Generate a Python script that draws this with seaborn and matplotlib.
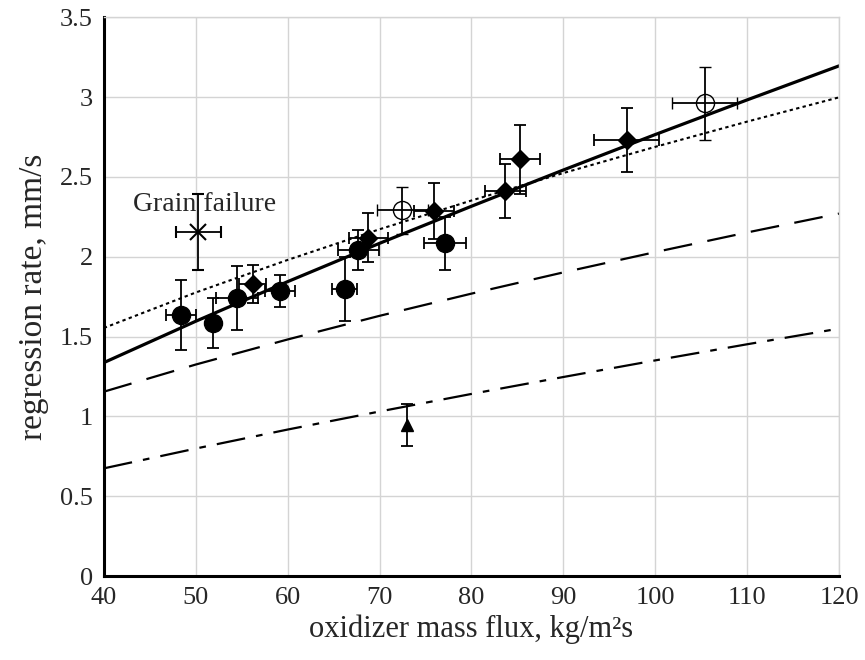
import numpy as np
import pandas as pd
import matplotlib
matplotlib.use("Agg")
import matplotlib.pyplot as plt
import seaborn as sns

# fitted curves at x = 40, 50, ... 120
flux_fit = [40, 50, 60, 70, 80, 90, 100, 110, 120]
fit_solid = [1.337, 1.596, 1.844, 2.084, 2.316, 2.543, 2.765, 2.982, 3.195]
fit_dotted = [1.554, 1.776, 1.980, 2.172, 2.352, 2.524, 2.688, 2.846, 2.998]
fit_dashed = [1.155, 1.325, 1.482, 1.630, 1.769, 1.902, 2.029, 2.152, 2.270]
fit_dashdot = [0.675, 0.799, 0.918, 1.031, 1.141, 1.247, 1.351, 1.452, 1.550]

# measured points
circ_x = [48.4, 51.9, 54.5, 59.2, 66.2, 67.7, 77.1]
circ_y = [1.635, 1.585, 1.74, 1.785, 1.80, 2.04, 2.085]
circ_xerr = [1.65, 0.7, 2.3, 1.65, 1.4, 2.2, 2.3]
circ_yerr = [0.22, 0.155, 0.20, 0.10, 0.20, 0.125, 0.165]

diam_x = [56.2, 68.8, 75.9, 83.7, 85.3, 96.9]
diam_y = [1.83, 2.12, 2.285, 2.41, 2.61, 2.73]
diam_xerr = [1.45, 2.15, 2.2, 2.25, 2.15, 3.55]
diam_yerr = [0.12, 0.155, 0.175, 0.17, 0.215, 0.20]

open_x = [72.5, 105.4]
open_y = [2.29, 2.96]
open_xerr = [2.8, 3.55]
open_yerr = [0.145, 0.23]

tri_x = [73.0]
tri_y = [0.946]
tri_yerr = [0.13]

fail_x = [50.3]
fail_y = [2.155]
fail_xerr = [2.45]
fail_yerr = [0.24]

sns.set_style("white")
plt.rcParams['font.family'] = ['Liberation Serif', 'DejaVu Serif']

fig = plt.figure(figsize=(8.65, 6.6), dpi=100)
ax = fig.add_axes([0.120, 0.127, 0.850, 0.847])

fits = pd.DataFrame({"flux": flux_fit, "solid": fit_solid, "dotted": fit_dotted,
                     "dashed": fit_dashed, "dashdot": fit_dashdot})
sns.lineplot(data=fits, x="flux", y="solid", ax=ax, color="black", linewidth=2.3)
sns.lineplot(data=fits, x="flux", y="dotted", ax=ax, color="black", linewidth=1.5,
             linestyle=(0, (1.6, 1.6)))
sns.lineplot(data=fits, x="flux", y="dashed", ax=ax, color="black", linewidth=1.6,
             linestyle=(0, (13, 7)))
sns.lineplot(data=fits, x="flux", y="dashdot", ax=ax, color="black", linewidth=1.6,
             linestyle=(0, (13, 5, 3, 5)))

eb = dict(color="black", ecolor="black", elinewidth=1.3, capsize=4.5, capthick=1.3,
          linestyle="none", zorder=5)
ax.errorbar(circ_x, circ_y, xerr=circ_xerr, yerr=circ_yerr, marker="o", ms=13,
            mfc="black", mec="black", **eb)
ax.errorbar(diam_x, diam_y, xerr=diam_xerr, yerr=diam_yerr, marker="D", ms=9.5,
            mfc="black", mec="black", **eb)
ax.errorbar(open_x, open_y, xerr=open_xerr, yerr=open_yerr, marker="o", ms=13,
            mfc="none", mec="black", mew=1.0, **eb)
ax.errorbar(tri_x, tri_y, yerr=tri_yerr, marker="^", ms=9,
            mfc="black", mec="black", **eb)
ax.errorbar(fail_x, fail_y, xerr=fail_xerr, yerr=fail_yerr, marker="x", ms=12,
            mew=1.5, mec="black", **eb)

ax.text(51.0, 2.325, "Grain failure", ha="center", va="center", fontsize=20)

ax.set_xlim(40, 120)
ax.set_ylim(0, 3.5)
ax.set_xticks(np.arange(40, 121, 10))
ax.set_yticks(np.arange(0, 3.51, 0.5))
ax.set_xticks(np.arange(45, 120, 10), minor=True)
ax.set_yticks(np.arange(0.25, 3.5, 0.5), minor=True)
ax.set_yticklabels(["0", "0.5", "1", "1.5", "2", "2.5", "3", "3.5"])
ax.grid(True, which="major", color="#d4d4d4", linewidth=1.0)
ax.set_axisbelow(True)
ax.tick_params(which="major", direction="in", length=15, width=1.6, labelsize=19,
               top=False, right=False, pad=8)
ax.tick_params(which="minor", direction="in", length=8, width=1.6, top=False, right=False)

for s in ["left", "bottom"]:
    ax.spines[s].set_color("black")
    ax.spines[s].set_linewidth(2.2)
for s in ["top", "right"]:
    ax.spines[s].set_color("#d4d4d4")
    ax.spines[s].set_linewidth(1.0)

ax.set_xlabel("oxidizer mass flux, kg/m²s", fontsize=22, labelpad=4)
ax.set_ylabel("regression rate, mm/s", fontsize=24, labelpad=8)

fig.savefig("out.png", dpi=100)
